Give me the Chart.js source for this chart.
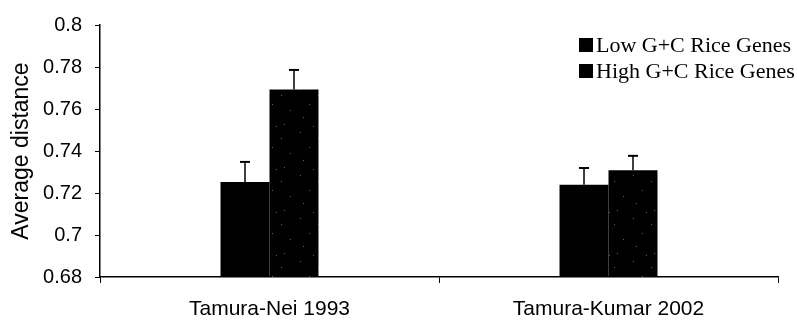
<!DOCTYPE html>
<html>
<head>
<meta charset="utf-8">
<script src="https://cdn.jsdelivr.net/npm/chart.js@4.4.1/dist/chart.umd.min.js"></script>
<style>
  html, body { margin: 0; padding: 0; background: #fff; }
  #wrap { width: 797px; height: 326px; }
</style>
</head>
<body>
<div id="wrap"><canvas id="c" width="797" height="326"></canvas></div>
<script>
// Average distance by method, low vs high G+C rice genes
const methods = ['Tamura-Nei 1993', 'Tamura-Kumar 2002'];
const seriesNames = ['Low G+C Rice Genes', 'High G+C Rice Genes'];
const lowGC = [0.7252, 0.7239];
const highGC = [0.7693, 0.7308];
const lowGCErr = [0.0096, 0.0080];
const highGCErr = [0.0093, 0.0069];
const yTicks = [0.68, 0.7, 0.72, 0.74, 0.76, 0.78, 0.8];

// near-black fill with sparse light specks for the high G+C bars
function speckle() {
  const p = document.createElement('canvas');
  p.width = 37; p.height = 43;
  const g = p.getContext('2d');
  g.fillStyle = '#000';
  g.fillRect(0, 0, p.width, p.height);
  g.fillStyle = 'rgba(120,120,120,0.8)';
  const dots = [[4,3],[22,9],[13,18],[31,24],[7,31],[25,38],[17,40]];
  dots.forEach(([x, y]) => g.fillRect(x, y, 1, 1));
  return g.createPattern(p, 'repeat');
}

// upward error bars with a cap
const errorBars = {
  id: 'errorBars',
  afterDatasetsDraw(chart) {
    const ctx = chart.ctx;
    const ys = chart.scales.y;
    chart.data.datasets.forEach((ds, i) => {
      const meta = chart.getDatasetMeta(i);
      meta.data.forEach((bar, j) => {
        const top = ys.getPixelForValue(ds.data[j] + ds.errors[j]);
        ctx.save();
        ctx.strokeStyle = '#000';
        ctx.lineWidth = 1.5;
        ctx.beginPath();
        ctx.moveTo(bar.x, bar.y);
        ctx.lineTo(bar.x, top);
        ctx.stroke();
        ctx.lineWidth = 2;
        ctx.beginPath();
        ctx.moveTo(bar.x - 5, top);
        ctx.lineTo(bar.x + 5, top);
        ctx.stroke();
        ctx.restore();
      });
    });
  }
};

// legend drawn inside the plot, upper right
const boxLegend = {
  id: 'boxLegend',
  afterDraw(chart) {
    const ctx = chart.ctx;
    const x0 = 579, y0 = 45, gap = 26;
    ctx.save();
    ctx.font = '22px "Liberation Serif", "Times New Roman", serif';
    ctx.textBaseline = 'middle';
    chart.data.datasets.forEach((ds, i) => {
      const y = y0 + i * gap;
      ctx.fillStyle = '#000';
      ctx.fillRect(x0, y - 7, 14, 14);
      ctx.fillText(ds.label, x0 + 17, y + 1);
    });
    ctx.restore();
  }
};

new Chart(document.getElementById('c'), {
  type: 'bar',
  data: {
    labels: methods,
    datasets: [
      { label: seriesNames[0], data: lowGC, errors: lowGCErr, backgroundColor: '#000' },
      { label: seriesNames[1], data: highGC, errors: highGCErr, backgroundColor: speckle() }
    ]
  },
  options: {
    responsive: false,
    animation: false,
    devicePixelRatio: 1,
    categoryPercentage: 0.289,
    barPercentage: 1,
    layout: { padding: { left: 0, right: 19, top: 24, bottom: 0 } },
    plugins: { legend: { display: false }, tooltip: { enabled: false } },
    scales: {
      x: {
        grid: { display: true, drawOnChartArea: false, color: '#000', tickLength: 6, offset: true },
        border: { color: '#000', width: 1.5 },
        ticks: { color: '#000', padding: 14, font: { family: '"Liberation Sans", Arial, sans-serif', size: 21 } },
        afterFit(s) { s.height = 49; }
      },
      y: {
        min: 0.68,
        max: 0.8,
        afterBuildTicks(s) { s.ticks = yTicks.map(v => ({ value: v })); },
        grid: { display: true, drawOnChartArea: false, color: '#000', tickLength: 5 },
        border: { color: '#000', width: 1.5 },
        ticks: {
          color: '#000', padding: 13,
          font: { family: '"Liberation Sans", Arial, sans-serif', size: 20 },
          callback: v => String(+Number(v).toFixed(2))
        },
        title: {
          display: true, text: 'Average distance', color: '#000',
          font: { family: '"Liberation Sans", Arial, sans-serif', size: 23 },
          padding: { top: 8, bottom: 0 }
        },
        afterFit(s) { s.width = 100; }
      }
    }
  },
  plugins: [errorBars, boxLegend]
});
</script>
</body>
</html>
